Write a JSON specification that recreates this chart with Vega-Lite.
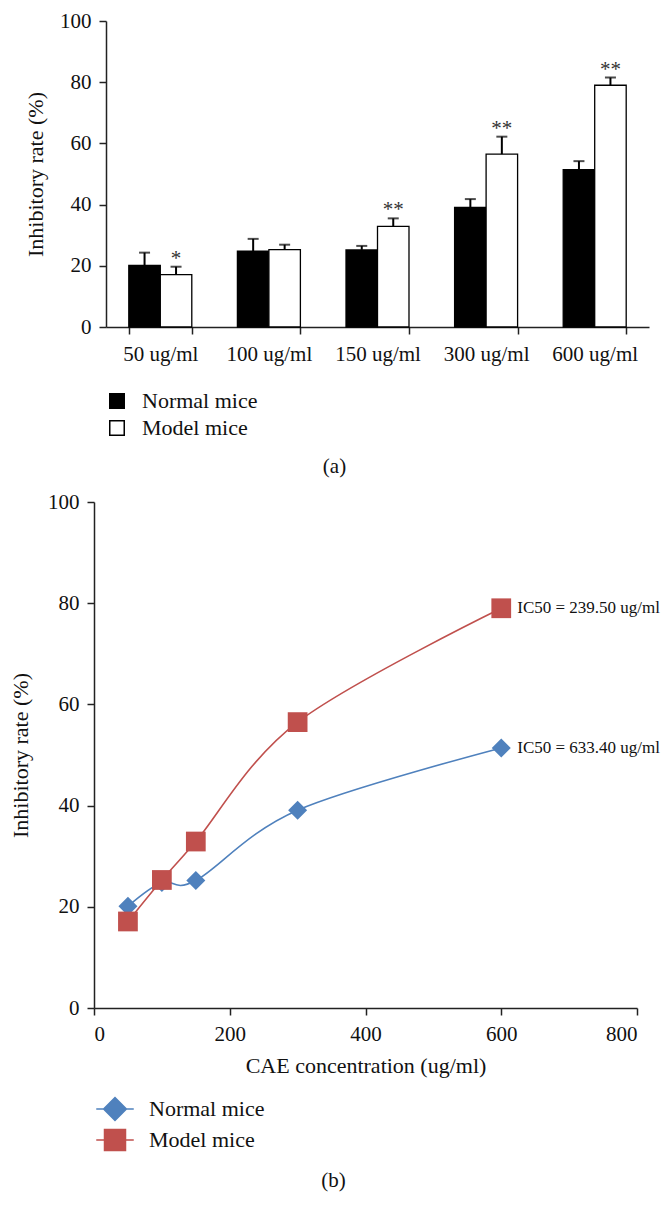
{
  "$schema": "https://vega.github.io/schema/vega-lite/v6.json",
  "background": "white",
  "padding": {"left": 9, "top": 10, "right": 5, "bottom": 5},
  "spacing": 14,
  "resolve": {
    "scale": {"color": "independent", "fill": "independent", "stroke": "independent", "shape": "independent", "size": "independent", "x": "independent", "y": "independent"},
    "legend": {"color": "independent", "fill": "independent", "stroke": "independent", "shape": "independent", "size": "independent"}
  },
  "datasets": {
    "rates": [
      {"conc": 50, "label": "50 ug/ml", "group": "Normal mice", "value": 20.1, "upper": 24.3, "sig": ""},
      {"conc": 100, "label": "100 ug/ml", "group": "Normal mice", "value": 24.8, "upper": 28.8, "sig": ""},
      {"conc": 150, "label": "150 ug/ml", "group": "Normal mice", "value": 25.2, "upper": 26.5, "sig": ""},
      {"conc": 300, "label": "300 ug/ml", "group": "Normal mice", "value": 39.1, "upper": 41.8, "sig": ""},
      {"conc": 600, "label": "600 ug/ml", "group": "Normal mice", "value": 51.4, "upper": 54.2, "sig": ""},
      {"conc": 50, "label": "50 ug/ml", "group": "Model mice", "value": 17.1, "upper": 19.7, "sig": "*"},
      {"conc": 100, "label": "100 ug/ml", "group": "Model mice", "value": 25.3, "upper": 26.9, "sig": ""},
      {"conc": 150, "label": "150 ug/ml", "group": "Model mice", "value": 32.9, "upper": 35.5, "sig": "**"},
      {"conc": 300, "label": "300 ug/ml", "group": "Model mice", "value": 56.5, "upper": 62.2, "sig": "**"},
      {"conc": 600, "label": "600 ug/ml", "group": "Model mice", "value": 79.0, "upper": 81.5, "sig": "**"}
    ],
    "ic50": [
      {"conc": 600, "value": 79.0, "text": "IC50 = 239.50 ug/ml"},
      {"conc": 600, "value": 51.4, "text": "IC50 = 633.40 ug/ml"}
    ]
  },
  "config": {
    "font": "Liberation Serif",
    "view": {"stroke": null},
    "axis": {
      "labelFont": "Liberation Serif", "titleFont": "Liberation Serif",
      "labelColor": "#111", "titleColor": "#111",
      "domainColor": "#222", "tickColor": "#222",
      "domainWidth": 1.5, "tickWidth": 1.5, "tickSize": 7,
      "grid": false, "titleFontWeight": "normal",
      "labelFontSize": 21, "titleFontSize": 22
    },
    "legend": {"labelFont": "Liberation Serif", "labelFontSize": 22, "labelColor": "#111"},
    "title": {"font": "Liberation Serif", "fontSize": 21, "fontWeight": "normal", "color": "#111"}
  },
  "vconcat": [
    {
      "width": 555,
      "height": 306,
      "title": {"text": "(a)", "orient": "bottom", "dx": -37, "offset": 17},
      "data": {"name": "rates"},
      "encoding": {
        "x": {"field": "label", "type": "nominal", "title": null, "sort": ["50 ug/ml", "100 ug/ml", "150 ug/ml", "300 ug/ml", "600 ug/ml"],
          "scale": {"range": [12, 555], "paddingInner": 0.42, "paddingOuter": 0.21},
          "axis": {"title": null, "labelAngle": 0, "tickBand": "extent", "labelPadding": 9}},
        "xOffset": {"field": "group", "type": "nominal", "sort": ["Normal mice", "Model mice"]}
      },
      "layer": [
        {
          "mark": {"type": "bar", "stroke": "black", "strokeWidth": 1.3},
          "encoding": {
            "y": {"field": "value", "type": "quantitative", "title": "Inhibitory rate (%)", "scale": {"domain": [0, 100], "nice": false},
              "axis": {"title": "Inhibitory rate (%)", "values": [0, 20, 40, 60, 80, 100], "offset": -12, "labelPadding": 8, "titlePadding": 12}},
            "fill": {"field": "group", "type": "nominal",
              "scale": {"domain": ["Normal mice", "Model mice"], "range": ["black", "white"]},
              "legend": {"title": null, "orient": "none", "legendX": 12, "legendY": 369, "symbolType": "square", "symbolSize": 210,
                "rowPadding": 5, "labelOffset": 14, "padding": 0,
                "encode": {"symbols": {"update": {"stroke": {"value": "black"}, "strokeWidth": {"value": 1.2}, "opacity": {"value": 1}}}}}}
          }
        },
        {
          "mark": {"type": "rule", "strokeWidth": 2, "color": "black"},
          "encoding": {
            "y": {"field": "value", "type": "quantitative", "title": "Inhibitory rate (%)"},
            "y2": {"field": "upper"}
          }
        },
        {
          "mark": {"type": "tick", "thickness": 2, "size": 11, "color": "black", "orient": "horizontal"},
          "encoding": {
            "y": {"field": "upper", "type": "quantitative", "title": "Inhibitory rate (%)"}
          }
        },
        {
          "transform": [{"filter": "datum.sig != ''"}],
          "mark": {"type": "text", "fontSize": 21, "dy": -2, "baseline": "alphabetic", "color": "#333"},
          "encoding": {
            "y": {"field": "upper", "type": "quantitative", "title": "Inhibitory rate (%)"},
            "text": {"field": "sig"}
          }
        }
      ]
    },
    {
      "width": 543,
      "height": 506,
      "title": {"text": "(b)", "orient": "bottom", "dx": -32, "offset": 16},
      "data": {"name": "rates"},
      "encoding": {
        "x": {"field": "conc", "type": "quantitative", "title": "CAE concentration (ug/ml)", "scale": {"domain": [0, 800], "nice": false},
          "axis": {"title": "CAE concentration (ug/ml)", "values": [0, 200, 400, 600, 800], "labelPadding": 8, "titlePadding": 11}},
        "y": {"field": "value", "type": "quantitative", "title": "Inhibitory rate (%)", "scale": {"domain": [0, 100], "nice": false},
          "axis": {"title": "Inhibitory rate (%)", "values": [0, 20, 40, 60, 80, 100], "labelPadding": 8, "titlePadding": 15}}
      },
      "layer": [
        {
          "transform": [{"filter": "datum.group === 'Normal mice'"}],
          "mark": {"type": "line", "interpolate": "cardinal", "strokeWidth": 1.6, "color": "#4F81BD"}
        },
        {
          "transform": [{"filter": "datum.group === 'Model mice'"}],
          "mark": {"type": "line", "interpolate": "cardinal", "strokeWidth": 1.6, "color": "#C0504D"}
        },
        {
          "transform": [{"filter": "datum.group === 'Normal mice'"}],
          "mark": {"type": "point", "shape": "diamond", "size": 361, "filled": true, "opacity": 1, "color": "#4F81BD"}
        },
        {
          "transform": [{"filter": "datum.group === 'Model mice'"}],
          "mark": {"type": "point", "shape": "square", "size": 390, "filled": true, "opacity": 1, "color": "#C0504D"}
        },
        {
          "transform": [{"filter": "false"}],
          "mark": {"type": "point", "filled": true, "size": 900, "strokeWidth": 1.5, "opacity": 1},
          "encoding": {
            "fill": {"field": "group", "type": "nominal",
              "scale": {"domain": ["Normal mice", "Model mice"], "range": ["#4F81BD", "#C0504D"]},
              "legend": {"title": null, "orient": "none", "legendX": 5, "legendY": 591, "symbolSize": 900, "symbolStrokeWidth": 1.5, "symbolOpacity": 1, "rowPadding": 0, "labelOffset": 18, "padding": 0}},
            "stroke": {"field": "group", "type": "nominal",
              "scale": {"domain": ["Normal mice", "Model mice"], "range": ["#4F81BD", "#C0504D"]},
              "legend": {"title": null, "orient": "none", "legendX": 5, "legendY": 591, "symbolSize": 900, "symbolStrokeWidth": 1.5, "symbolOpacity": 1, "rowPadding": 0, "labelOffset": 18, "padding": 0}},
            "shape": {"field": "group", "type": "nominal",
              "scale": {"domain": ["Normal mice", "Model mice"], "range": ["M-1.25,0H1.25M-0.76,0L0,-0.76L0.76,0L0,0.76Z", "M-1.25,0H1.25M-0.7,-0.7H0.7V0.7H-0.7Z"]},
              "legend": {"title": null, "orient": "none", "legendX": 5, "legendY": 591, "symbolSize": 900, "symbolStrokeWidth": 1.5, "symbolOpacity": 1, "rowPadding": 0, "labelOffset": 18, "padding": 0}}
          }
        },
        {
          "data": {"name": "ic50"},
          "mark": {"type": "text", "align": "left", "baseline": "middle", "dx": 16, "fontSize": 17, "color": "#111"},
          "encoding": {
            "text": {"field": "text"}
          }
        }
      ]
    }
  ]
}
